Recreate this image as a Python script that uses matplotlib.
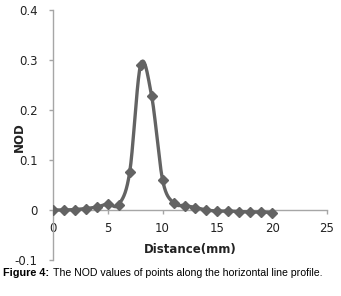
import numpy as np
import matplotlib.pyplot as plt

# NOD values (one point per mm)
distance = list(range(0, 21))
nod = [0.0, 0.0, 0.001, 0.003, 0.006, 0.012, 0.011, 0.076, 0.291, 0.228, 0.06,
       0.014, 0.009, 0.005, 0.0, -0.002, -0.002, -0.003, -0.004, -0.004, -0.005]

xticks = [0, 5, 10, 15, 20, 25]
yticks = [-0.1, 0, 0.1, 0.2, 0.3, 0.4]
col = "#636363"


def smooth(x, y, n=20):
    # Catmull-Rom style curve through the points, like Excel's smoothed line
    x = np.asarray(x, float)
    y = np.asarray(y, float)
    px = np.concatenate([[x[0]], x, [x[-1]]])
    py = np.concatenate([[y[0]], y, [y[-1]]])
    t = np.linspace(0, 1, n)
    xs, ys = [], []
    for i in range(1, len(px) - 2):
        for p, out in ((px, xs), (py, ys)):
            p0, p1, p2, p3 = p[i - 1], p[i], p[i + 1], p[i + 2]
            out.extend(0.5 * ((2 * p1) + (-p0 + p2) * t
                              + (2 * p0 - 5 * p1 + 4 * p2 - p3) * t ** 2
                              + (-p0 + 3 * p1 - 3 * p2 + p3) * t ** 3))
    return xs, ys


fig = plt.figure(figsize=(3.41, 2.96), dpi=100)
ax = fig.add_axes([53 / 341, 36 / 296, 274 / 341, 250 / 296])

sx, sy = smooth(distance, nod)
ax.plot(sx, sy, color=col, lw=2.4, zorder=3)
ax.plot(distance, nod, ls="none", marker="D", ms=5, color=col, zorder=4)

ax.set_xlim(0, 25)
ax.set_ylim(-0.1, 0.4)
ax.set_xticks(xticks)
ax.set_yticks(yticks)
ax.set_yticklabels(["-0.1", "0", "0.1", "0.2", "0.3", "0.4"])
ax.spines["top"].set_visible(False)
ax.spines["right"].set_visible(False)
ax.spines["bottom"].set_position(("data", 0))
for s in ("left", "bottom"):
    ax.spines[s].set_color("#a6a6a6")
    ax.spines[s].set_linewidth(1)
ax.tick_params(colors="#a6a6a6", labelcolor="#222222", labelsize=8.5,
               length=3, width=1, pad=6)
ax.tick_params(axis="y", pad=8)

ax.set_xlabel("Distance(mm)", fontsize=8.5, fontweight="bold", color="#222222")
ax.xaxis.set_label_coords(0.5, 0.07)
ax.set_ylabel("NOD", fontsize=8.5, fontweight="bold", color="#222222")
ax.yaxis.set_label_coords(-0.1, 0.49)

fig.text(0.01, 0.068, "Figure 4:", fontsize=7.8, fontweight="bold",
         family="Liberation Sans")
fig.text(0.155, 0.068, "The NOD values of points along the horizontal line profile.",
         fontsize=7.6, family="Liberation Sans")

fig.savefig("out.png", dpi=100)
